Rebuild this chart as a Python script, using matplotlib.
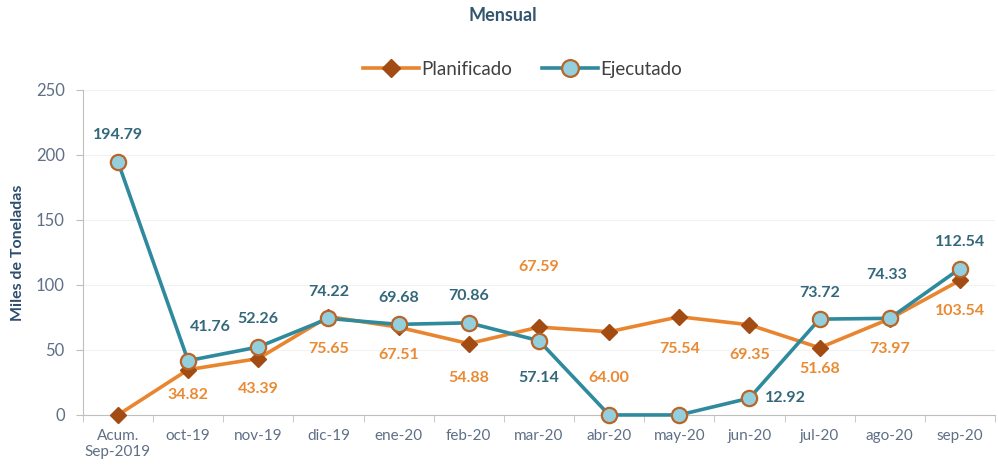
import matplotlib.pyplot as plt
import numpy as np

categorias = ["Acum.\nSep-2019", "oct-19", "nov-19", "dic-19", "ene-20", "feb-20",
              "mar-20", "abr-20", "may-20", "jun-20", "jul-20", "ago-20", "sep-20"]
planificado = [0, 34.82, 43.39, 75.65, 67.51, 54.88, 67.59, 64.00, 75.54, 69.35, 51.68, 73.97, 103.54]
ejecutado = [194.79, 41.76, 52.26, 74.22, 69.68, 70.86, 57.14, 0, 0, 12.92, 73.72, 74.33, 112.54]

# label offsets in points (dx, dy); None = no label
off_plan = [None, (0, -18), (0, -22), (0, -23), (0, -20), (0, -25), (0, 43),
            (0, -33), (0, -23), (0, -22), (0, -15), (0, -22), (0, -22)]
off_ejec = [(0, 19), (16, 24), (0, 20), (0, 19), (0, 19), (0, 19), (0, -27),
            None, None, (26, 0), (0, 19), (-2, 31), (0, 19)]

c_plan = "#E9852F"
c_plan_mk = "#A24B12"
c_ejec = "#2E8A9C"
c_ejec_mk = "#93CFDD"
c_lab_ejec = "#33687A"
c_lab_plan = "#EA8A33"
c_tick = "#5F6F85"

plt.rcParams['font.family'] = ['Lato', 'DejaVu Sans']

fig = plt.figure(figsize=(9.98, 4.71), dpi=100)
ax = fig.add_axes([0.083, 0.119, 0.914, 0.69])

x = np.arange(len(categorias))
ax.plot(x, planificado, color=c_plan, lw=2.6, marker="D", ms=8,
        mfc=c_plan_mk, mec=c_plan_mk, label="Planificado", zorder=3, clip_on=False)
ax.plot(x, ejecutado, color=c_ejec, lw=2.6, marker="o", ms=11,
        mfc=c_ejec_mk, mec="#B8652A", mew=1.6, label="Ejecutado", zorder=4, clip_on=False)

for xi, v, o in zip(x, planificado, off_plan):
    if o is None:
        continue
    ax.annotate(f"{v:.2f}", (xi, v), xytext=o, textcoords="offset points",
                ha="center", va="center", fontsize=11.5, fontweight="bold", color=c_lab_plan)
for xi, v, o in zip(x, ejecutado, off_ejec):
    if o is None:
        continue
    ax.annotate(f"{v:.2f}", (xi, v), xytext=o, textcoords="offset points",
                ha="center", va="center", fontsize=11.5, fontweight="bold", color=c_lab_ejec)

ax.set_xlim(-0.5, len(categorias) - 0.5)
ax.set_ylim(0, 250)
ax.set_yticks(np.arange(0, 251, 50))
ax.set_xticks(x)
ax.set_xticklabels(categorias)
ax.set_xticks(np.arange(-0.5, len(categorias), 1), minor=True)
ax.tick_params(axis="x", which="major", length=0, pad=10, labelsize=11, labelcolor=c_tick)
ax.tick_params(axis="x", which="minor", length=5, color="#BFBFBF", direction="out")
ax.tick_params(axis="y", length=5, color="#BFBFBF", labelsize=12, labelcolor=c_tick, pad=8)

ax.grid(axis="y", color="#F2F2F2", lw=0.8)
ax.set_axisbelow(True)
for s in ["top", "right"]:
    ax.spines[s].set_visible(False)
ax.spines["left"].set_color("#BFBFBF")
ax.spines["bottom"].set_color("#BFBFBF")

ax.set_ylabel("Miles de Toneladas", fontsize=11.5, fontweight="bold", color="#2F4E6E", labelpad=8)

fig.text(0.504, 0.968, "Mensual", ha="center", va="center", fontsize=13,
         fontweight="bold", color="#33566E")
ax.legend(loc="center", bbox_to_anchor=(0.482, 1.063), ncol=2, frameon=False,
          fontsize=13.5, handlelength=3.0, columnspacing=1.6, handletextpad=0.1,
          labelcolor="#404040", markerscale=1.1)

fig.savefig("out.png", dpi=100)
